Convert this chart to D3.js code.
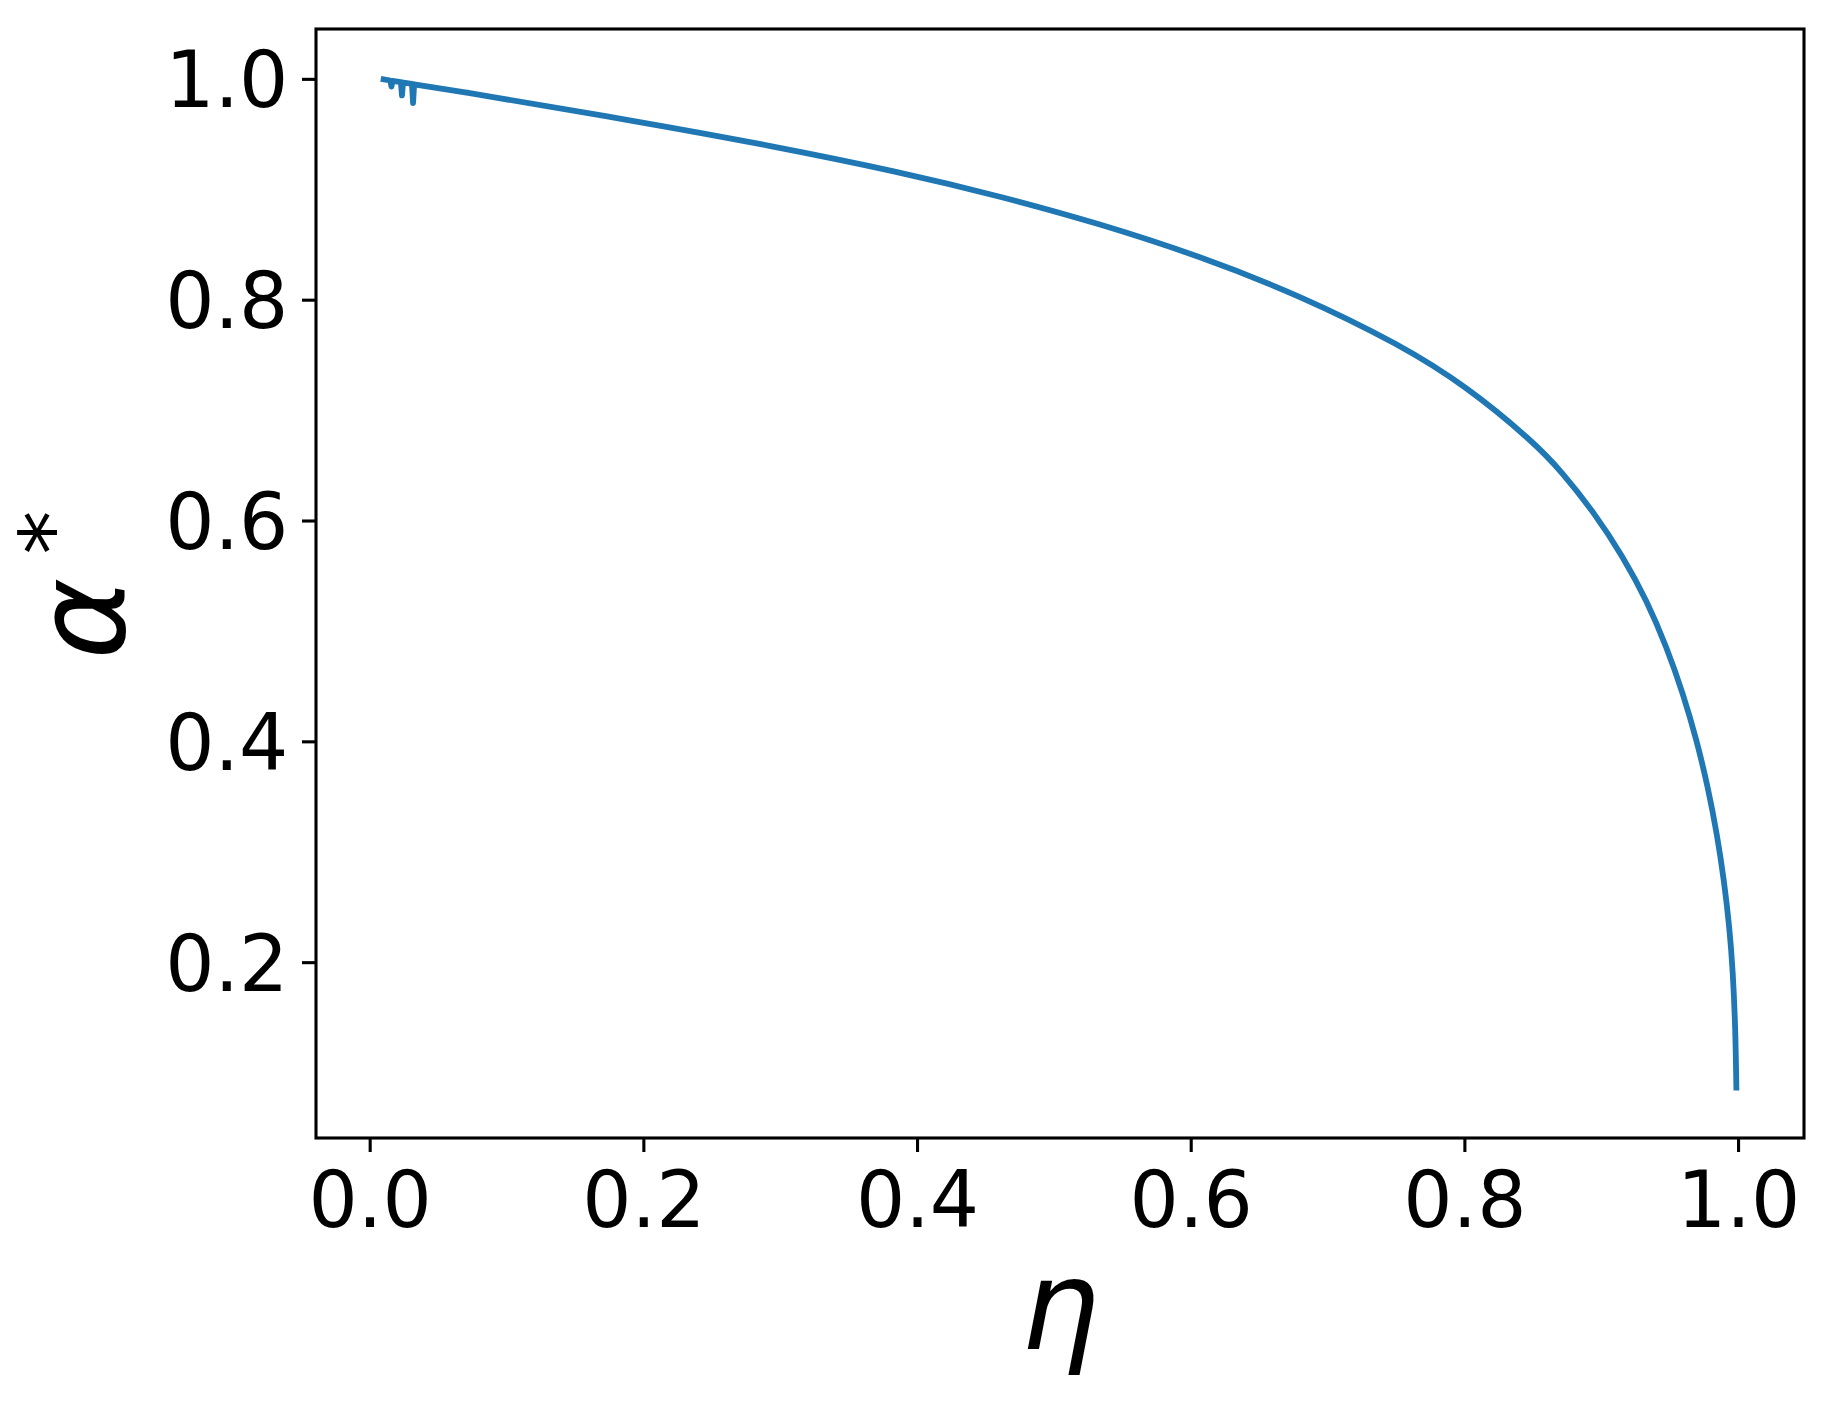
<!DOCTYPE html>
<html>
<head>
<meta charset="utf-8">
<script src="https://cdn.jsdelivr.net/npm/d3@7"></script>
<style>
  html, body { margin: 0; padding: 0; background: #ffffff; }
  svg { display: block; }
</style>
</head>
<body>
<script>
// ---- data ----
const eta = [0.0102, 0.0151, 0.0159, 0.0167, 0.0228, 0.0236, 0.0244, 0.0309, 0.0317, 0.0325,
             0.0731, 0.1950, 0.2924, 0.3874, 0.4605, 0.5336, 0.6067, 0.6798, 0.7529, 0.8017,
             0.8504, 0.8711, 0.89422, 0.91615, 0.93326, 0.94788, 0.95987, 0.96981, 0.97800, 0.98458,
             0.98977, 0.99371, 0.99620, 0.99810, 0.99876];
const alphaStar = [0.9995, 0.9985, 0.9930, 0.9982, 0.9970, 0.9850, 0.9967, 0.9954, 0.9780, 0.9951,
                   0.9870, 0.9617, 0.9397, 0.9157, 0.8938, 0.8688, 0.8394, 0.8039, 0.7594, 0.7214,
                   0.6713, 0.6443, 0.6082, 0.5669, 0.5275, 0.4852, 0.4430, 0.4007, 0.3584, 0.3162,
                   0.2739, 0.2316, 0.1924, 0.1380, 0.0864];
const xTicks = [0.0, 0.2, 0.4, 0.6, 0.8, 1.0];
const yTicks = [0.2, 0.4, 0.6, 0.8, 1.0];
const xLabel = "η";
const yLabel = "α";
const yLabelSup = "*";

(function () {
const W = 1834, H = 1408;
const mL = 316, mR = 1804, mT = 29, mB = 1138;
const fontFam = "'DejaVu Sans', sans-serif";

function padded(ext) {
  const s = ext[1] - ext[0];
  return [ext[0] - 0.05 * s, ext[1] + 0.05 * s];
}

const svg = d3.select("body").append("svg").attr("width", W).attr("height", H);
svg.append("rect").attr("width", W).attr("height", H).attr("fill", "#ffffff");

const x = d3.scaleLinear().domain(padded(d3.extent(eta))).range([mL, mR]);
const y = d3.scaleLinear().domain(padded(d3.extent(alphaStar))).range([mB, mT]);

const pts = eta.map((e, i) => [e, alphaStar[i]]);

// the narrow dips near the start are drawn straight, the smooth body with a spline
const split = 10;
const lin = d3.line().x(d => x(d[0])).y(d => y(d[1])).curve(d3.curveLinear);
const smooth = d3.line().x(d => x(d[0])).y(d => y(d[1])).curve(d3.curveBasis);
const dPath = lin(pts.slice(0, split + 1)) + smooth(pts.slice(split));

svg.append("path")
  .attr("fill", "none")
  .attr("stroke", "#1f77b4")
  .attr("stroke-width", 5.8)
  .attr("stroke-linejoin", "round")
  .attr("stroke-linecap", "square")
  .attr("d", dPath);

// axes
const xAxis = svg.append("g").attr("transform", `translate(0,${mB})`)
  .call(d3.axisBottom(x).tickValues(xTicks).tickFormat(d3.format(".1f")).tickSize(14).tickSizeOuter(0));
const yAxis = svg.append("g").attr("transform", `translate(${mL},0)`)
  .call(d3.axisLeft(y).tickValues(yTicks).tickFormat(d3.format(".1f")).tickSize(14).tickSizeOuter(0));

[xAxis, yAxis].forEach(g => {
  g.select(".domain").remove();
  g.selectAll(".tick line").attr("stroke", "#000").attr("stroke-width", 3.1);
  g.selectAll(".tick text").attr("fill", "#000")
    .style("font-family", fontFam).style("font-size", "77.5px");
});
xAxis.selectAll(".tick text").attr("dy", 0).attr("y", 89);
yAxis.selectAll(".tick text").attr("dy", 0).attr("x", -27.6).attr("y", 28);

// spines
svg.append("rect")
  .attr("x", mL).attr("y", mT)
  .attr("width", mR - mL).attr("height", mB - mT)
  .attr("fill", "none").attr("stroke", "#000").attr("stroke-width", 3.1)
  .attr("stroke-linejoin", "miter");

// x label
svg.append("text")
  .attr("x", (mL + mR) / 2).attr("y", 1349)
  .attr("text-anchor", "middle")
  .style("font-family", fontFam).style("font-style", "italic").style("font-size", "124px")
  .attr("fill", "#000")
  .text(xLabel);

// y label (rotated)
const cy = (mT + mB) / 2;
const yl = svg.append("text")
  .attr("transform", `translate(124,${cy}) rotate(-90)`)
  .style("font-family", fontFam).style("font-size", "124px")
  .attr("fill", "#000");
yl.append("tspan").attr("x", -76).attr("y", 0).style("font-style", "italic").text(yLabel);
yl.append("tspan").attr("x", 29).attr("y", -42).style("font-size", "88px").text(yLabelSup);
})();
</script>
</body>
</html>
